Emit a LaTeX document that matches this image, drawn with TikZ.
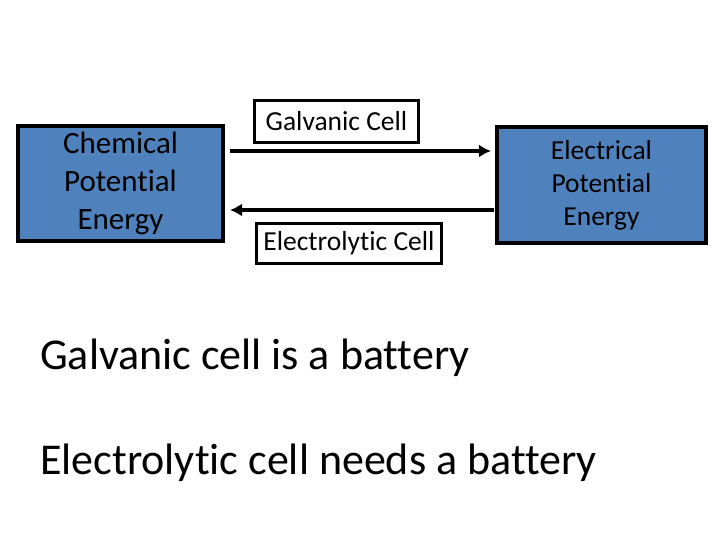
\documentclass[tikz,border=0pt]{standalone}
\usepackage{fontspec}
\setmainfont{Carlito}[Ligatures=NoCommon]
\usetikzlibrary{arrows.meta}
\definecolor{boxblue}{RGB}{79,129,189}
\tikzset{
  energy/.style={draw=black, line width=4pt, fill=boxblue, align=center, inner sep=0pt},
  cellbox/.style={draw=black, line width=3pt, fill=white, inner sep=0pt, font=\fontsize{27.5}{33}\selectfont},
  flow/.style={line width=4.5pt, -{Latex[length=12pt,width=13pt]}}
}
\begin{document}
\begin{tikzpicture}[x=1pt,y=-1pt]
        \useasboundingbox (0,0) rectangle (720,540);
        \node[energy, minimum width=205pt, minimum height=115pt, font=\fontsize{31}{38}\selectfont] (chem) at (120.5,183.5) {Chemical\\Potential\\Energy};
        \node[energy, minimum width=209pt, minimum height=116pt, font=\fontsize{27.5}{33}\selectfont] (elec) at (601.5,185) {Electrical\\Potential\\Energy};
        \node[cellbox, minimum width=164pt, minimum height=42pt] (galv) at (336.5,121.5) {Galvanic Cell};
        \node[cellbox, minimum width=185pt, minimum height=40pt] (lyt) at (349,243.5) {Electrolytic Cell};
        \draw[flow] ([xshift=5pt,yshift=32.5pt]chem.east) -- ([xshift=-4pt,yshift=32.5pt]chem.east -| elec.west);
        \draw[flow] ([xshift=-1pt,yshift=-26.5pt]chem.east -| elec.west) -- ([xshift=5pt,yshift=-26.5pt]chem.east);
        \node[anchor=base west, inner sep=0pt, font=\fontsize{44}{50}\selectfont] (gtext) at (40,369) {Galvanic cell is a battery};
        \node[anchor=base west, inner sep=0pt, font=\fontsize{44}{50}\selectfont] (etext) at (40,474) {Electrolytic cell needs a battery};
    \end{tikzpicture}
\end{document}
